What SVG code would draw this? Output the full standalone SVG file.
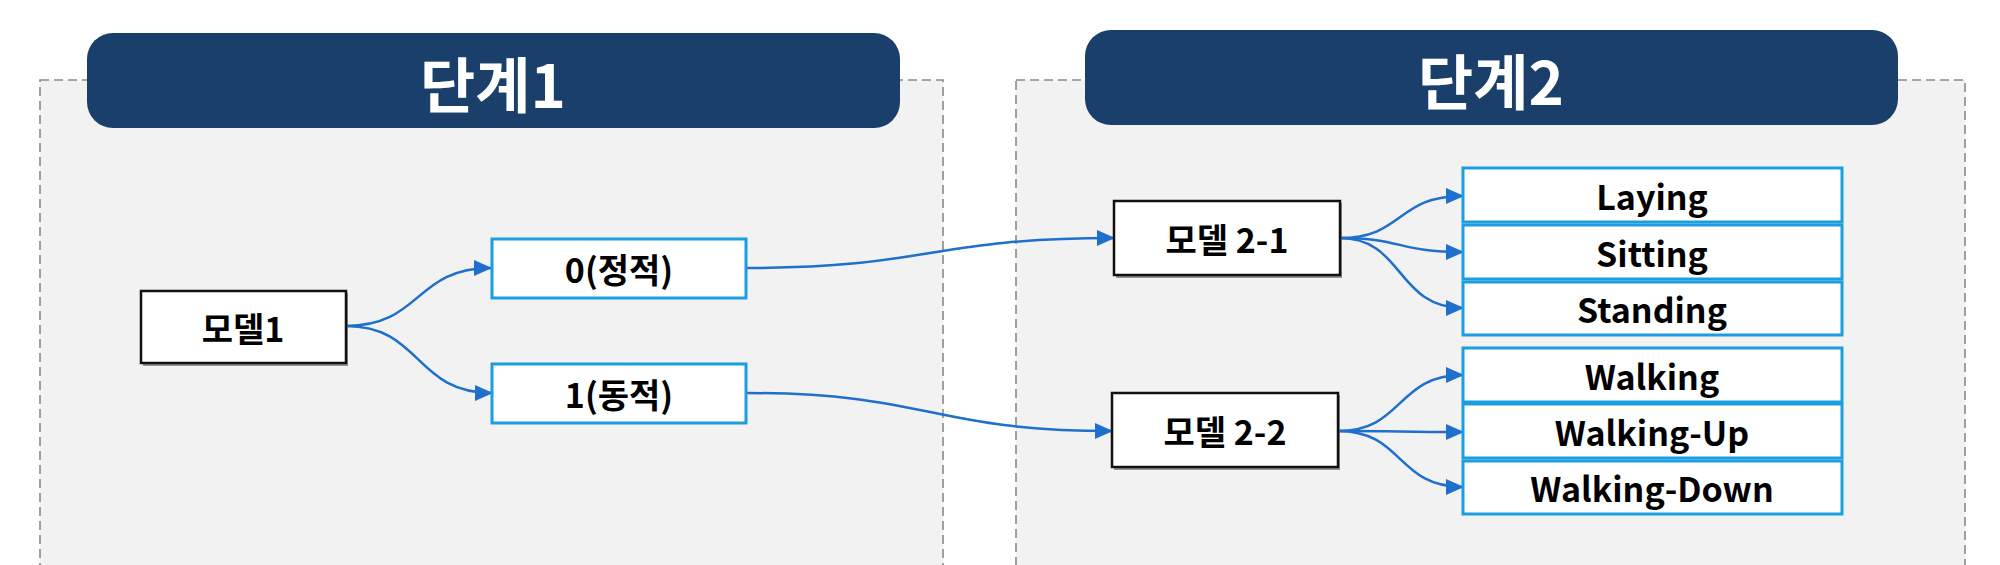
<svg xmlns="http://www.w3.org/2000/svg" width="2000" height="565" viewBox="0 0 2000 565">
<style>
.panel{fill:#f2f2f2;stroke:#8a8a8a;stroke-width:1.6;stroke-dasharray:9 5}
.hdr{fill:#1b3f6b}
.htxt{fill:#fff;font-family:"Noto Sans CJK KR","Noto Sans",sans-serif;font-weight:700;font-size:60px;text-anchor:middle;dominant-baseline:central}
.mbox{fill:#fff;stroke:#111;stroke-width:2.5}
.shadow{fill:#6b6b6b;opacity:.7}
.bbox{fill:#fff;stroke:#1a9ee0;stroke-width:3}
.t{fill:#000;font-family:"Noto Sans CJK KR","Noto Sans",sans-serif;font-weight:700;font-size:34px;text-anchor:middle;dominant-baseline:central}
.c{fill:none;stroke:#1f6fcc;stroke-width:2.5;marker-end:url(#ah)}
</style>
<defs>
<marker id="ah" markerUnits="userSpaceOnUse" markerWidth="18" markerHeight="16" refX="17" refY="8" orient="auto">
<path d="M0,0 L18,8 L0,16 Z" fill="#1f6fcc"/>
</marker>
</defs>
<rect width="2000" height="565" fill="#fff"/>
<g id="panel1">
<rect class="panel" x="40" y="80" width="903" height="540"/>
<rect class="hdr" x="87" y="33" width="813" height="95" rx="26"/>
<text class="htxt" x="493" y="81">단계1</text>
</g>
<g id="panel2">
<rect class="panel" x="1016" y="80" width="949" height="540"/>
<rect class="hdr" x="1085" y="30" width="813" height="95" rx="26"/>
<text class="htxt" x="1491" y="78">단계2</text>
</g>
<g id="connectors">
<path class="c" d="M346,326 C422,326 414,268 491,268"/>
<path class="c" d="M346,326 C422,326 414,393 492,393"/>
<path class="c" d="M746,268 C930,268 930,238 1114,238"/>
<path class="c" d="M746,393 C930,393 930,431 1112,431"/>
<path class="c" d="M1340,238 C1404,238 1396,196 1463,196"/>
<path class="c" d="M1340,238 C1404,238 1396,252 1463,252"/>
<path class="c" d="M1340,238 C1404,238 1396,308 1463,308"/>
<path class="c" d="M1338,431 C1404,431 1396,375 1463,375"/>
<path class="c" d="M1338,431 C1404,431 1396,432 1463,432"/>
<path class="c" d="M1338,431 C1404,431 1396,487 1463,487"/>
</g>
<g id="model1">
<rect class="shadow" x="143" y="293" width="205" height="73"/>
<rect class="mbox" x="141" y="291" width="205" height="72"/>
<text class="t" x="243" y="327">모델1</text>
</g>
<g id="static0">
<rect class="bbox" x="492" y="239" width="254" height="59"/>
<text class="t" x="619" y="268">0(정적)</text>
</g>
<g id="dynamic1">
<rect class="bbox" x="492" y="364" width="254" height="59"/>
<text class="t" x="619" y="393">1(동적)</text>
</g>
<g id="model21">
<rect class="shadow" x="1116" y="203" width="226" height="75"/>
<rect class="mbox" x="1114" y="201" width="226" height="74"/>
<text class="t" x="1227" y="238">모델 2-1</text>
</g>
<g id="model22">
<rect class="shadow" x="1114" y="395" width="226" height="75"/>
<rect class="mbox" x="1112" y="393" width="226" height="74"/>
<text class="t" x="1225" y="430">모델 2-2</text>
</g>
<g id="laying">
<rect class="bbox" x="1463" y="168" width="379" height="54"/>
<text class="t" x="1652" y="195">Laying</text>
</g>
<g id="sitting">
<rect class="bbox" x="1463" y="225" width="379" height="54"/>
<text class="t" x="1652" y="252">Sitting</text>
</g>
<g id="standing">
<rect class="bbox" x="1463" y="282" width="379" height="53"/>
<text class="t" x="1652" y="308">Standing</text>
</g>
<g id="walking">
<rect class="bbox" x="1463" y="348" width="379" height="54"/>
<text class="t" x="1652" y="375">Walking</text>
</g>
<g id="walkingup">
<rect class="bbox" x="1463" y="404" width="379" height="54"/>
<text class="t" x="1652" y="431">Walking-Up</text>
</g>
<g id="walkingdown">
<rect class="bbox" x="1463" y="461" width="379" height="53"/>
<text class="t" x="1652" y="487">Walking-Down</text>
</g>
</svg>
